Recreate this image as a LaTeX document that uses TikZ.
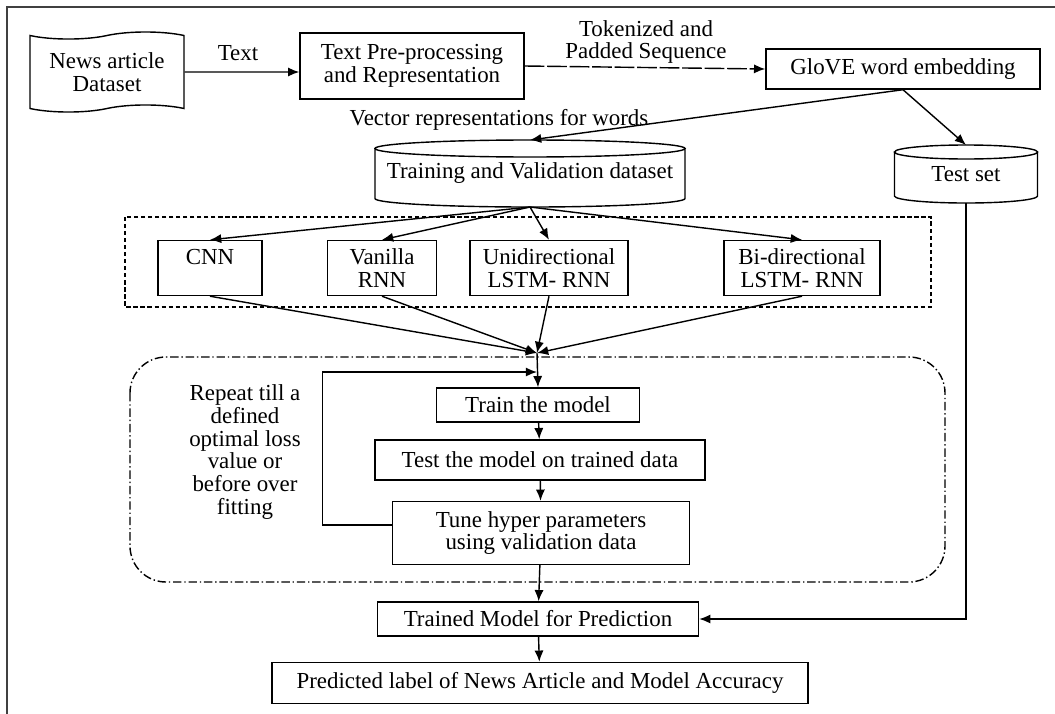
\documentclass[tikz,border=0pt]{standalone}
\usepackage{fontspec}
\setmainfont{Liberation Serif}
\usetikzlibrary{shapes.symbols}
\usetikzlibrary{arrows.meta}

\newcommand{\drum}[3]{% node, half width, ellipse radius
  \draw ([yshift=-#3]#1.north west) -- ([yshift=#3]#1.south west)
    arc[start angle=180,end angle=360,x radius=#2,y radius=#3]
    -- ([yshift=-#3]#1.north east)
    ([yshift=-#3]#1.north) ellipse[x radius=#2,y radius=#3];}

\begin{document}
\begin{tikzpicture}[x=0.025cm,y=-0.025cm,
    font=\fontsize{16.3}{16.3}\selectfont,
    line width=1pt,
    >={Latex[length=8pt,width=6.5pt]},
    box/.style={draw,rectangle,inner sep=0pt,align=center},
    dbase/.style={rectangle,inner sep=0pt,outer sep=0pt,align=center}]
    \useasboundingbox (0,0) rectangle (1055,713);
    \draw[line width=1.4pt,black!75] (7,7) rectangle (1075,735);

    \node[draw,tape,inner sep=0pt,align=center,minimum width=3.85cm,minimum height=2cm] (news) at (107,72) {News article\\Dataset};
    \node[box,minimum width=5.6cm,minimum height=1.65cm] (pre) at (412,66) {Text Pre-processing\\and Representation};
    \node[box,minimum width=6.85cm,minimum height=1cm] (glove) at (903,69) {GloVE word embedding};
    \node (text) at (238,53) {Text};
    \node[align=center] (tok) at (646,42) {Tokenized and\\Padded Sequence};
    \node (vec) at (499,120) {Vector representations for words};

    \node[dbase,minimum width=7.75cm,minimum height=1.675cm] (trainset) at (530,173.5) {Training and Validation dataset};
    \drum{trainset}{3.875cm}{0.2125cm}
    \node[dbase,minimum width=3.575cm,minimum height=1.45cm] (testset) at (966,174) {Test set};
    \drum{testset}{1.7875cm}{0.175cm}

    \draw[dashed,dash pattern=on 3pt off 2pt] (125,217) rectangle (931,307);
    \node[box,minimum width=2.6cm,minimum height=1.375cm] (cnn) at (210,268) {CNN\\~};
    \node[box,minimum width=2.725cm,minimum height=1.375cm] (vanilla) at (382,268) {Vanilla\\RNN};
    \node[box,minimum width=3.95cm,minimum height=1.375cm] (uni) at (549,268) {Unidirectional\\LSTM- RNN};
    \node[box,minimum width=3.9cm,minimum height=1.375cm] (bi) at (802,268) {Bi-directional\\LSTM- RNN};
    \coordinate (merge) at (537,353);

    \draw[dash pattern=on 6pt off 2pt on 1pt off 2pt,rounded corners=0.9cm] (130,357) rectangle (945,582);
    \node[box,minimum width=5.075cm,minimum height=0.85cm] (train) at (538,405) {Train the model};
    \node[box,minimum width=8.25cm,minimum height=1cm] (test) at (540,460) {Test the model on trained data};
    \node[box,minimum width=7.425cm,minimum height=1.575cm] (tune) at (541,533) {Tune hyper parameters\\using validation data};
    \node[align=center] (repeat) at (245,452) {Repeat till a\\defined\\optimal loss\\value or\\before over\\fitting};
    \coordinate (loop) at (537,372);

    \node[box,minimum width=8.025cm,minimum height=0.85cm] (trained) at (538,619) {Trained Model for Prediction};
    \node[box,minimum width=13.4cm,minimum height=1.025cm] (pred) at (540,683) {Predicted label of News Article and Model Accuracy};

    \draw[->] (news) -- (pre.west |- news);
    \draw[->,dash pattern=on 14pt off 2pt] (pre.east) -- (glove.west);
    \draw[->] (glove.south) -- (trainset.north);
    \draw[->] (glove.south) -- (testset.north);
    \draw[->] (trainset.south) -- (cnn.north);
    \draw[->] (trainset.south) -- (vanilla.north);
    \draw[->] (trainset.south) -- (uni.north);
    \draw[->] (trainset.south) -- (bi.north);
    \draw[->] (cnn.south) -- (merge);
    \draw[->] (vanilla.south) -- (merge);
    \draw[->] (uni.south) -- (merge);
    \draw[->] (bi.south) -- (merge);
    \draw[->] (merge) -- (train.north);
    \draw[->] (train) -- (test);
    \draw[->] (test) -- (tune);
    \draw[->] ([yshift=0.2cm]tune.west) -- ++(-69,0) |- (loop);
    \draw[->] (tune) -- (trained);
    \draw[->] (testset.south) |- (trained.east);
    \draw[->] (trained) -- (pred);
\end{tikzpicture}
\end{document}
